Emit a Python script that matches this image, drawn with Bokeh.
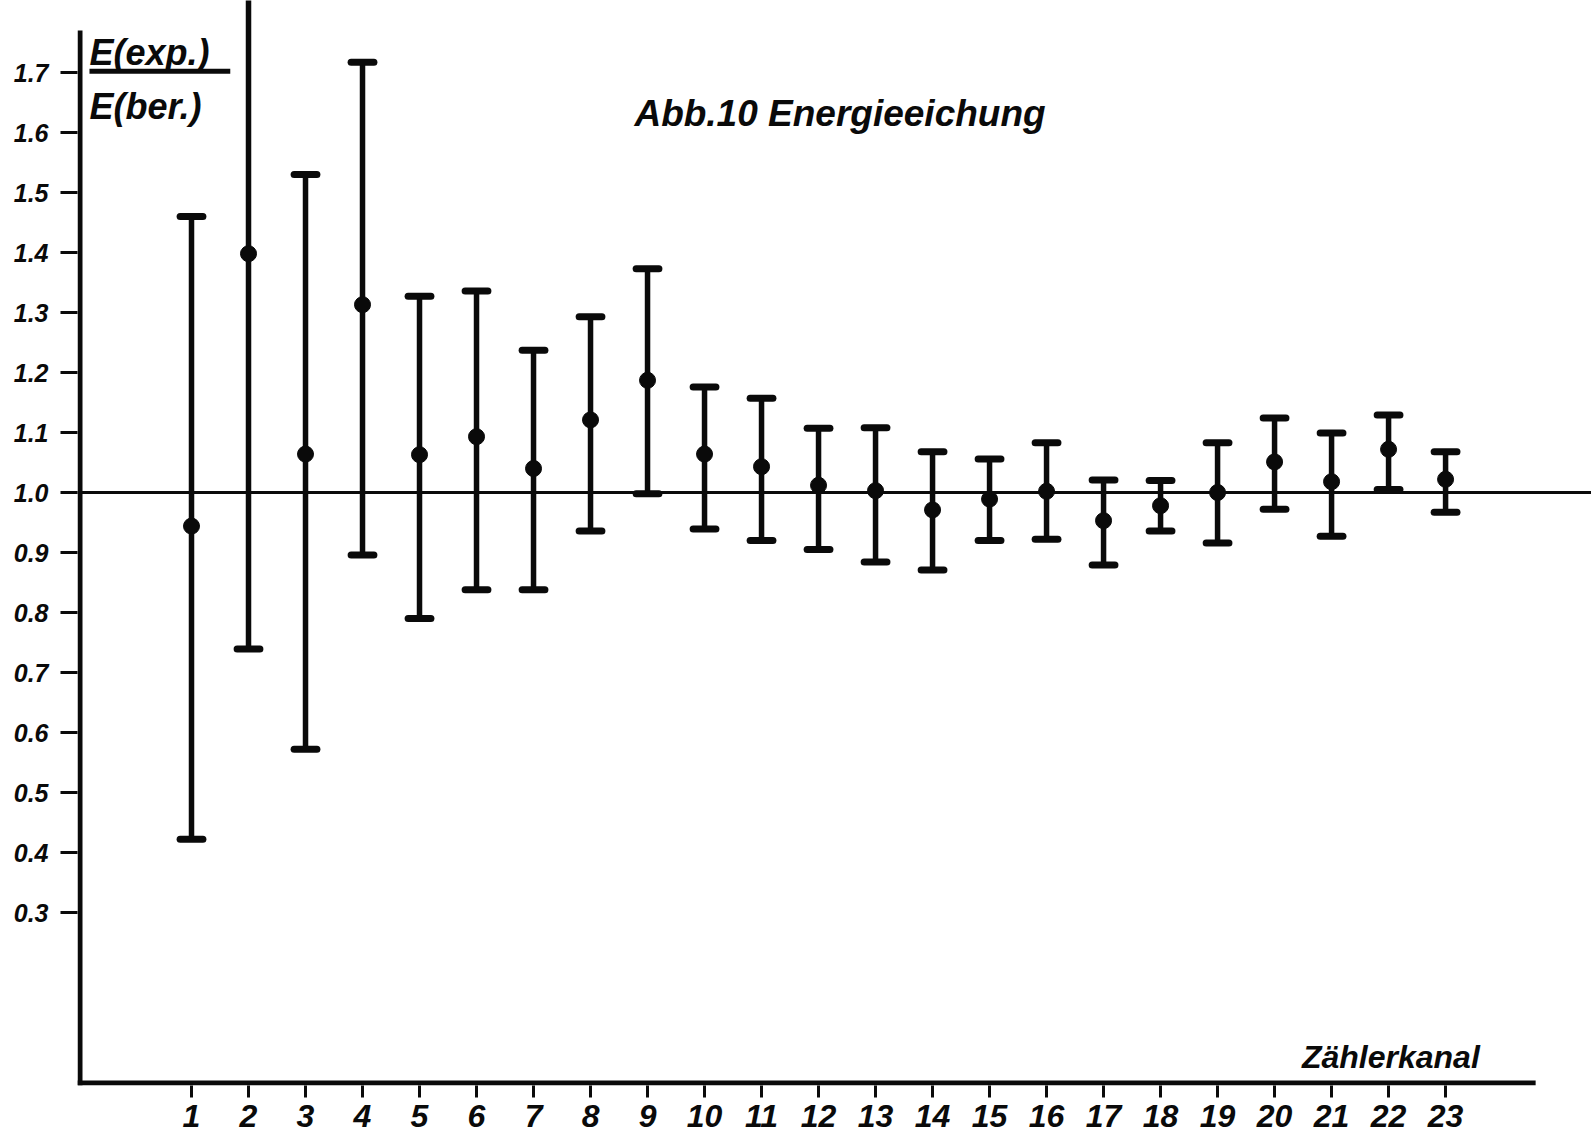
from bokeh.plotting import figure
from bokeh.models import ColumnDataSource, FixedTicker, Span, Range1d
from bokeh.core.properties import value
from bokeh.embed import file_html
from bokeh.resources import INLINE

# Zählerkanal 1..23: measured ratio E(exp.)/E(ber.) with its error limits
channels = list(range(1, 24))
ratio = [0.944, 1.398, 1.064, 1.313, 1.063, 1.093, 1.040, 1.121, 1.187, 1.064,
         1.043, 1.012, 1.003, 0.971, 0.989, 1.002, 0.953, 0.978, 1.000, 1.051,
         1.018, 1.072, 1.022]
upper = [1.460, 2.060, 1.530, 1.717, 1.327, 1.336, 1.237, 1.293, 1.373, 1.176,
         1.157, 1.107, 1.108, 1.068, 1.056, 1.083, 1.021, 1.020, 1.083, 1.124,
         1.099, 1.129, 1.068]
lower = [0.422, 0.739, 0.572, 0.896, 0.790, 0.838, 0.838, 0.936, 0.998, 0.939,
         0.920, 0.905, 0.884, 0.871, 0.920, 0.922, 0.879, 0.936, 0.916, 0.972,
         0.927, 1.005, 0.967]

y_ticks = [0.3, 0.4, 0.5, 0.6, 0.7, 0.8, 0.9, 1.0, 1.1, 1.2, 1.3, 1.4, 1.5, 1.6, 1.7]
y_tick_labels = ["0.3", "0.4", "0.5", "0.6", "0.7", "0.8", "0.9", "1.0",
                 "1.1", "1.2", "1.3", "1.4", "1.5", "1.6", "1.7"]

FONT = "Liberation Sans"
INK = "#0a0a0a"

X0, X1 = -1.0, 25.56
Y0, Y1 = 0.0117, 1.82

p = figure(width=1591, height=1142, output_backend="svg", toolbar_location=None,
           x_range=Range1d(X0, X1), y_range=Range1d(Y0, Y1),
           min_border_left=77, min_border_right=0, min_border_top=0,
           min_border_bottom=57)
p.outline_line_color = None
p.grid.visible = False
p.background_fill_color = "white"
p.border_fill_color = "white"

# y axis: ticks pointing outward, line drawn separately
yax = p.yaxis[0]
yax.ticker = FixedTicker(ticks=y_ticks)
yax.major_label_overrides = {t: s for t, s in zip(y_ticks, y_tick_labels)}
yax.axis_line_color = None
yax.major_tick_in = 0
yax.major_tick_out = 17
yax.major_tick_line_width = 3
yax.major_tick_line_color = INK
yax.minor_tick_line_color = None
yax.major_label_standoff = 12
yax.major_label_text_font = FONT
yax.major_label_text_font_style = "bold italic"
yax.major_label_text_font_size = "25px"
yax.major_label_text_color = INK

# x axis: channel numbers 1..23
xax = p.xaxis[0]
xax.ticker = FixedTicker(ticks=channels)
xax.axis_line_color = None
xax.major_tick_in = 0
xax.major_tick_out = 12
xax.major_tick_line_width = 3
xax.major_tick_line_color = INK
xax.minor_tick_line_color = None
xax.major_label_standoff = 7
xax.major_label_text_font = FONT
xax.major_label_text_font_style = "bold italic"
xax.major_label_text_font_size = "32px"
xax.major_label_text_color = INK

# axis lines
p.segment(x0=[X0 + 0.044], y0=[Y0], x1=[X0 + 0.044], y1=[1.77],
          line_width=5, line_color=INK)
p.segment(x0=[X0], y0=[Y0 + 0.004], x1=[24.58], y1=[Y0 + 0.004],
          line_width=5, line_color=INK)

# reference line at ratio 1.0
p.add_layout(Span(location=1.0, dimension="width", line_color=INK, line_width=3))

src = ColumnDataSource(dict(
    x=channels, y=ratio, lo=lower, hi=upper,
    xl=[c - 0.2 for c in channels], xr=[c + 0.2 for c in channels],
))

# error bars with caps
p.segment(x0="x", y0="lo", x1="x", y1="hi", source=src,
          line_width=5.5, line_color=INK)
p.segment(x0="xl", y0="hi", x1="xr", y1="hi", source=src,
          line_width=7, line_color=INK, line_cap="round")
p.segment(x0="xl", y0="lo", x1="xr", y1="lo", source=src,
          line_width=7, line_color=INK, line_cap="round")
p.scatter(x="x", y="y", source=src, size=16, marker="circle",
          fill_color=INK, line_color=INK)

# texts
p.text(x=[8.77], y=[1.632], text=["Abb.10  Energieeichung"],
       text_font=value(FONT), text_font_style="bold italic",
       text_font_size="37px", text_color=INK,
       text_align="left", text_baseline="alphabetic")
p.text(x=[23.6], y=[0.06], text=["Zählerkanal"],
       text_font=value(FONT), text_font_style="bold italic",
       text_font_size="32px", text_color=INK,
       text_align="right", text_baseline="alphabetic")

# y axis quantity written as a fraction
p.text(x=[-0.79], y=[1.733], text=["E(exp.)"],
       text_font=value(FONT), text_font_style="bold italic",
       text_font_size="36px", text_color=INK,
       text_align="left", text_baseline="alphabetic")
p.segment(x0=[-0.79], y0=[1.702], x1=[1.68], y1=[1.702],
          line_width=5, line_color=INK)
p.text(x=[-0.79], y=[1.643], text=["E(ber.)"],
       text_font=value(FONT), text_font_style="bold italic",
       text_font_size="36px", text_color=INK,
       text_align="left", text_baseline="alphabetic")

open("out.html", "w").write(file_html(p, INLINE))
